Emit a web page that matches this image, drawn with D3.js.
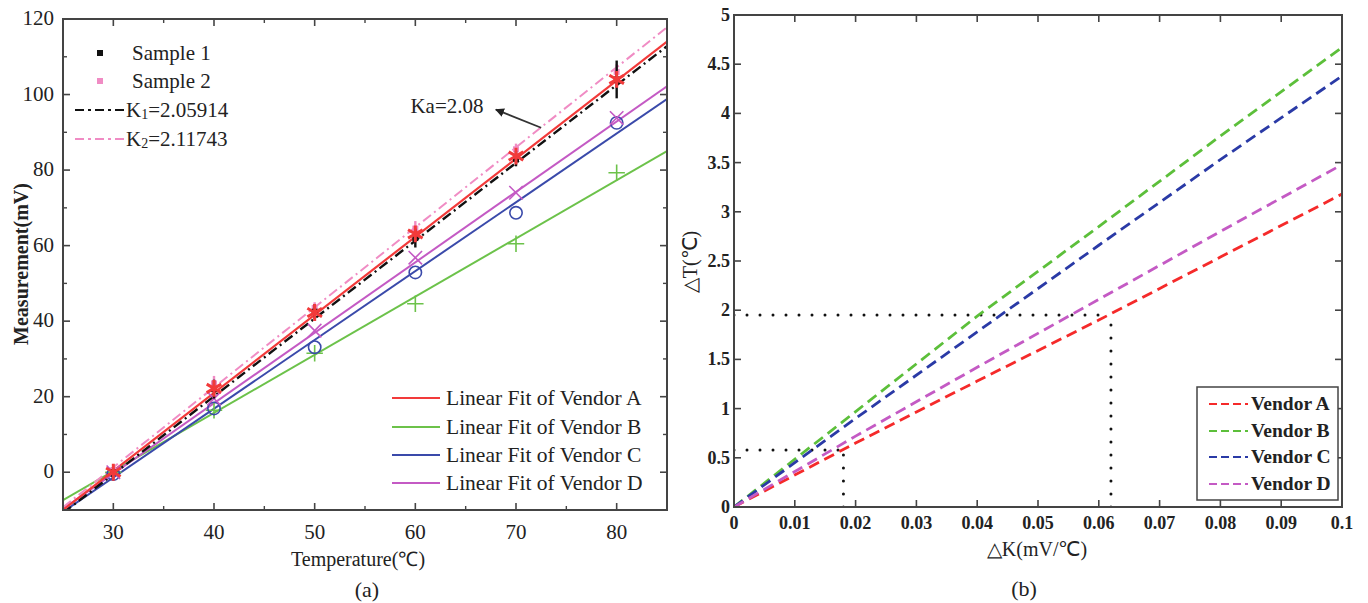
<!DOCTYPE html>
<html><head><meta charset="utf-8">
<script src="https://cdn.jsdelivr.net/npm/d3@7"></script>
<style>body{margin:0;background:#fff}svg{display:block}text{font-family:"Liberation Serif","Times New Roman",serif;fill:#222}</style>
</head><body>
<svg id="c" width="1368" height="603"></svg>
<script>
// ---------- Data: panel (a) ----------
const temps = [30, 40, 50, 60, 70, 80];
const sample1 = [0, 22, 42.5, 62, 83, 104];
const sample1Err = [1, 2.5, 2, 2.5, 2, 5];
const sample2 = [0.5, 23.5, 43.5, 64.5, 85.5, 106];
const sample2Err = [1, 2, 1.5, 2, 1.5, 2];
const vendorA = [0, 22.2, 42.3, 63.1, 83.7, 104];
const vendorB = [0, 16.4, 31.5, 44.6, 60.5, 79.3];
const vendorC = [-0.5, 16.9, 33.1, 52.9, 68.7, 92.5];
const vendorD = [0, 19.5, 37.5, 56.8, 74, 93.8];
const fitRangeT = [25, 85];
const fitA = [-10, 114];
const fitB = [-7.4, 85];
const fitC = [-10.5, 98.8];
const fitD = [-9.7, 102.2];
const k1Line = [-10.8, 112.8];
const k2Line = [-9.3, 117.8];
const xTicksA = [30, 40, 50, 60, 70, 80];
const yTicksA = [0, 20, 40, 60, 80, 100, 120];
const legendA1 = ["Sample 1", "Sample 2", "K1=2.05914", "K2=2.11743"];
const legendA2 = ["Linear Fit of Vendor A", "Linear Fit of Vendor B", "Linear Fit of Vendor C", "Linear Fit of Vendor D"];

// ---------- Data: panel (b) ----------
const dK = [0, 0.02, 0.04, 0.06, 0.08, 0.1];
const dTA = [0, 0.65, 1.28, 1.90, 2.54, 3.18];
const dTB = [0, 0.97, 1.94, 2.85, 3.77, 4.67];
const dTC = [0, 0.90, 1.78, 2.66, 3.53, 4.38];
const dTD = [0, 0.72, 1.42, 2.11, 2.80, 3.48];
const guide1 = [0.062, 1.95];
const guide2 = [0.018, 0.58];
const xTicksB = [0, 0.01, 0.02, 0.03, 0.04, 0.05, 0.06, 0.07, 0.08, 0.09, 0.1];
const yTicksB = [0, 0.5, 1, 1.5, 2, 2.5, 3, 3.5, 4, 4.5, 5];
const legendB = ["Vendor A", "Vendor B", "Vendor C", "Vendor D"];

const colA = {red:"#f23a3a", green:"#6cc24a", blue:"#3a4aaa", mag:"#c45ac4", pink:"#f08cc4", black:"#111"};
const colB = {red:"#f52a2a", green:"#5cbf3a", blue:"#2a3aa6", mag:"#c45ac4"};

const svg = d3.select("#c");
const frameCol = "#444";

function frame(g, x, y, xMaj, xMin, yMaj, yMin, xFmt, yFmt, opt) {
  const [x0, x1] = x.range(), [y0, y1] = y.range();
  xMaj.forEach(v => {
    g.append("line").attr("x1", x(v)).attr("x2", x(v)).attr("y1", y0).attr("y2", y0 - 7).attr("stroke", frameCol).attr("stroke-width", 1.6);
    g.append("line").attr("x1", x(v)).attr("x2", x(v)).attr("y1", y1).attr("y2", y1 + 7).attr("stroke", frameCol).attr("stroke-width", 1.6);
    g.append("text").attr("x", x(v)).attr("y", y0 + opt.xOff).attr("text-anchor", "middle").attr("font-size", opt.fs).attr("font-weight", opt.fw).text(xFmt(v));
  });
  xMin.forEach(v => {
    g.append("line").attr("x1", x(v)).attr("x2", x(v)).attr("y1", y0).attr("y2", y0 - 4).attr("stroke", frameCol).attr("stroke-width", 1.4);
    g.append("line").attr("x1", x(v)).attr("x2", x(v)).attr("y1", y1).attr("y2", y1 + 4).attr("stroke", frameCol).attr("stroke-width", 1.4);
  });
  yMaj.forEach(v => {
    g.append("line").attr("x1", x0).attr("x2", x0 + 7).attr("y1", y(v)).attr("y2", y(v)).attr("stroke", frameCol).attr("stroke-width", 1.6);
    g.append("line").attr("x1", x1).attr("x2", x1 - 7).attr("y1", y(v)).attr("y2", y(v)).attr("stroke", frameCol).attr("stroke-width", 1.6);
    g.append("text").attr("x", x0 - opt.yOff).attr("y", y(v) + 6).attr("text-anchor", "end").attr("font-size", opt.fs).attr("font-weight", opt.fw).text(yFmt(v));
  });
  yMin.forEach(v => {
    g.append("line").attr("x1", x0).attr("x2", x0 + 4).attr("y1", y(v)).attr("y2", y(v)).attr("stroke", frameCol).attr("stroke-width", 1.4);
    g.append("line").attr("x1", x1).attr("x2", x1 - 4).attr("y1", y(v)).attr("y2", y(v)).attr("stroke", frameCol).attr("stroke-width", 1.4);
  });
  g.append("rect").attr("x", x0).attr("y", y1).attr("width", x1 - x0).attr("height", y0 - y1)
    .attr("fill", "none").attr("stroke", frameCol).attr("stroke-width", 2);
}

// ================= Panel (a) =================
const xa = d3.scaleLinear().domain([25, 85]).range([63, 667]);
const ya = d3.scaleLinear().domain([-10, 120]).range([510, 19]);
const ga = svg.append("g");
svg.append("clipPath").attr("id", "clipA").append("rect").attr("x", 63).attr("y", 19).attr("width", 604).attr("height", 491);
const pa = ga.append("g").attr("clip-path", "url(#clipA)");

const seg = (vals, color, width, dash) => pa.append("line")
  .attr("x1", xa(fitRangeT[0])).attr("y1", ya(vals[0])).attr("x2", xa(fitRangeT[1])).attr("y2", ya(vals[1]))
  .attr("stroke", color).attr("stroke-width", width).attr("stroke-dasharray", dash || null);

seg(fitB, colA.green, 2);
seg(fitC, colA.blue, 2);
seg(fitD, colA.mag, 2);
seg(k2Line, colA.pink, 2, "10 4 2 4");
seg(k1Line, colA.black, 2.4, "10 4 2 4");
seg(fitA, colA.red, 2.2);

function markers(vals, type, color, size, sw) {
  pa.selectAll(null).data(vals).enter().append("path")
    .attr("transform", (d, i) => `translate(${xa(temps[i])},${ya(d)})`)
    .attr("d", d3.symbol().type(type).size(size))
    .attr("fill", "none").attr("stroke", color).attr("stroke-width", sw);
}
markers(vendorB, d3.symbolPlus, colA.green, 90, 1.6);
markers(vendorC, d3.symbolCircle, colA.blue, 120, 1.6);
markers(vendorD, d3.symbolTimes, colA.mag, 120, 1.6);
function errPts(vals, errs, color) {
  vals.forEach((v, i) => {
    pa.append("line").attr("x1", xa(temps[i])).attr("x2", xa(temps[i])).attr("y1", ya(v - errs[i])).attr("y2", ya(v + errs[i]))
      .attr("stroke", color).attr("stroke-width", 2.4);
    pa.append("rect").attr("x", xa(temps[i]) - 3).attr("y", ya(v) - 3).attr("width", 6).attr("height", 6).attr("fill", color);
  });
}
errPts(sample2, sample2Err, colA.pink);
errPts(sample1, sample1Err, colA.black);
markers(vendorA, d3.symbolAsterisk, colA.red, 200, 3);

frame(ga, xa, ya, xTicksA, [35, 45, 55, 65, 75, 85], yTicksA, [-10, 10, 30, 50, 70, 90, 110], d => d, d => d,
  {fs: 21, fw: "normal", xOff: 29, yOff: 9});

// Ka annotation
svg.append("defs").append("marker").attr("id", "arr").attr("viewBox", "0 0 10 10").attr("refX", 9).attr("refY", 5)
  .attr("markerWidth", 5).attr("markerHeight", 5).attr("orient", "auto")
  .append("path").attr("d", "M0,0 L10,5 L0,10 z").attr("fill", "#222");
ga.append("line").attr("x1", xa(72.5)).attr("y1", ya(91.2)).attr("x2", xa(68)).attr("y2", ya(96))
  .attr("stroke", "#333").attr("stroke-width", 1.8).attr("marker-end", "url(#arr)");
ga.append("text").attr("x", 447).attr("y", 113).attr("text-anchor", "middle").attr("font-size", 21).text("Ka=2.08");

// Legend upper-left
const lg1 = ga.append("g");
const ly1 = [53, 81, 110, 139];
lg1.append("rect").attr("x", 97).attr("y", ly1[0] - 3).attr("width", 6).attr("height", 6).attr("fill", colA.black);
lg1.append("rect").attr("x", 97).attr("y", ly1[1] - 3).attr("width", 6).attr("height", 6).attr("fill", colA.pink);
lg1.append("line").attr("x1", 75).attr("x2", 124).attr("y1", ly1[2]).attr("y2", ly1[2]).attr("stroke", colA.black).attr("stroke-width", 1.8).attr("stroke-dasharray", "9 4 3 4");
lg1.append("line").attr("x1", 75).attr("x2", 124).attr("y1", ly1[3]).attr("y2", ly1[3]).attr("stroke", colA.pink).attr("stroke-width", 1.8).attr("stroke-dasharray", "9 4 3 4");
legendA1.forEach((t, i) => {
  const tx = lg1.append("text").attr("x", i < 2 ? 132 : 126).attr("y", ly1[i] + 7).attr("font-size", 21);
  if (i < 2) tx.text(t);
  else {
    tx.append("tspan").text(t.slice(0, 1));
    tx.append("tspan").attr("font-size", 14).attr("dy", 2).text(t.slice(1, 2));
    tx.append("tspan").attr("dy", -2).text(t.slice(2));
  }
});
// Legend lower-right
const lcols = [colA.red, colA.green, colA.blue, colA.mag];
const ly2 = [398, 427, 455, 483];
legendA2.forEach((t, i) => {
  ga.append("line").attr("x1", 392).attr("x2", 440).attr("y1", ly2[i]).attr("y2", ly2[i]).attr("stroke", lcols[i]).attr("stroke-width", 2.2);
  ga.append("text").attr("x", 446).attr("y", ly2[i] + 7).attr("font-size", 21.5).text(t);
});

// axis titles (a)
ga.append("text").attr("x", 358).attr("y", 566).attr("text-anchor", "middle").attr("font-size", 20).text("Temperature(℃)");
ga.append("text").attr("transform", "translate(28,264) rotate(-90)").attr("text-anchor", "middle").attr("font-size", 20).attr("font-weight", "bold").text("Measurement(mV)");
ga.append("text").attr("x", 367).attr("y", 597).attr("text-anchor", "middle").attr("font-size", 22).text("(a)");

// ================= Panel (b) =================
const xb = d3.scaleLinear().domain([0, 0.1]).range([734, 1342]);
const yb = d3.scaleLinear().domain([0, 5]).range([507, 15]);
const gb = svg.append("g");
svg.append("clipPath").attr("id", "clipB").append("rect").attr("x", 734).attr("y", 15).attr("width", 608).attr("height", 492);
const pb = gb.append("g").attr("clip-path", "url(#clipB)");

const dot = (pts) => pb.append("path").attr("d", d3.line()(pts))
  .attr("fill", "none").attr("stroke", "#111").attr("stroke-width", 3).attr("stroke-linecap", "round").attr("stroke-dasharray", "0 13");
dot([[xb(guide1[0]), yb(0)], [xb(guide1[0]), yb(guide1[1])]]);
dot([[xb(0), yb(guide1[1])], [xb(guide1[0]), yb(guide1[1])]]);
dot([[xb(guide2[0]), yb(0)], [xb(guide2[0]), yb(guide2[1])]]);
dot([[xb(0), yb(guide2[1])], [xb(guide2[0]), yb(guide2[1])]]);

const lineB = d3.line().x((d, i) => xb(dK[i])).y(d => yb(d));
const seriesB = [[dTA, colB.red], [dTB, colB.green], [dTC, colB.blue], [dTD, colB.mag]];
seriesB.forEach(([vals, c]) => {
  pb.append("path").attr("d", lineB(vals)).attr("fill", "none").attr("stroke", c).attr("stroke-width", 2.8).attr("stroke-dasharray", "11 6");
});

const fmtB = d => d === 0 ? "0" : String(+d.toFixed(2));
frame(gb, xb, yb, xTicksB, [], yTicksB, [], fmtB, fmtB, {fs: 18, fw: "bold", xOff: 22, yOff: 4});

// Legend (b)
gb.append("rect").attr("x", 1197).attr("y", 387).attr("width", 141).attr("height", 113).attr("fill", "#fff").attr("stroke", "#444").attr("stroke-width", 1.5);
const ly3 = [404, 431, 457, 484];
legendB.forEach((t, i) => {
  gb.append("line").attr("x1", 1209).attr("x2", 1248).attr("y1", ly3[i]).attr("y2", ly3[i]).attr("stroke", seriesB[i][1]).attr("stroke-width", 2.2).attr("stroke-dasharray", "8 4");
  gb.append("text").attr("x", 1251).attr("y", ly3[i] + 6).attr("font-size", 19.5).attr("font-weight", "bold").text(t);
});

gb.append("text").attr("x", 1037).attr("y", 556).attr("text-anchor", "middle").attr("font-size", 20).text("△K(mV/℃)");
gb.append("text").attr("transform", "translate(697,262) rotate(-90)").attr("text-anchor", "middle").attr("font-size", 20).text("△T(℃)");
gb.append("text").attr("x", 1024).attr("y", 596).attr("text-anchor", "middle").attr("font-size", 22).text("(b)");
</script>
</body></html>
